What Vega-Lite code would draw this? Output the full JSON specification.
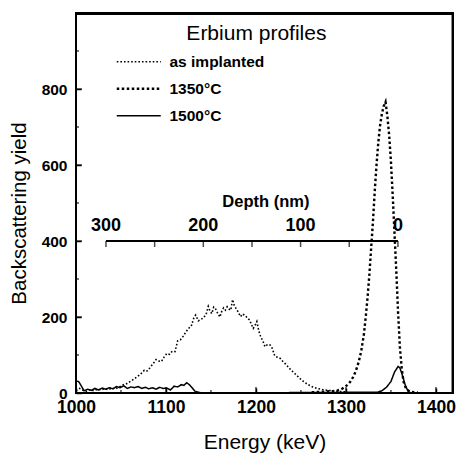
{
  "$schema": "https://vega.github.io/schema/vega-lite/v6.json",
  "width": 377,
  "height": 380,
  "autosize": {"type": "none"},
  "padding": {"left": 76, "top": 13, "right": 3, "bottom": 61},
  "background": "white",
  "view": {"stroke": "black", "strokeWidth": 2, "strokeOpacity": 1},
  "config": {
    "font": "Liberation Sans",
    "view": {"stroke": "black", "strokeWidth": 2, "strokeOpacity": 1},
    "axis": {
      "grid": false, "domain": false,
      "ticks": true, "tickColor": "black", "tickWidth": 1.5, "tickSize": 5, "tickOpacity": 1,
      "labelColor": "black", "titleColor": "black",
      "labelFont": "Liberation Sans", "titleFont": "Liberation Sans",
      "labelFontWeight": "bold", "titleFontWeight": "normal",
      "labelOverlap": false, "labelFlush": false, "zindex": 1
    },
    "legend": {
      "orient": "none", "legendX": 55, "legendY": 41,
      "symbolType": "M-4,0H4", "symbolSize": 121, "symbolStrokeColor": "black",
      "labelFont": "Liberation Sans", "labelFontSize": 15.5, "labelFontWeight": "bold",
      "labelColor": "black", "labelOffset": 23, "rowPadding": 10, "padding": 0
    }
  },
  "datasets": {
    "profiles": [
      {"profile": "as implanted", "energy": 1000, "yield": 6},
      {"profile": "as implanted", "energy": 1004, "yield": 12},
      {"profile": "as implanted", "energy": 1008, "yield": 7},
      {"profile": "as implanted", "energy": 1012, "yield": 4},
      {"profile": "as implanted", "energy": 1016, "yield": 9},
      {"profile": "as implanted", "energy": 1020, "yield": 6},
      {"profile": "as implanted", "energy": 1024, "yield": 10},
      {"profile": "as implanted", "energy": 1028, "yield": 8},
      {"profile": "as implanted", "energy": 1032, "yield": 11},
      {"profile": "as implanted", "energy": 1036, "yield": 9},
      {"profile": "as implanted", "energy": 1040, "yield": 13},
      {"profile": "as implanted", "energy": 1044, "yield": 11},
      {"profile": "as implanted", "energy": 1048, "yield": 16},
      {"profile": "as implanted", "energy": 1052, "yield": 21},
      {"profile": "as implanted", "energy": 1056, "yield": 24},
      {"profile": "as implanted", "energy": 1060, "yield": 30},
      {"profile": "as implanted", "energy": 1064, "yield": 36},
      {"profile": "as implanted", "energy": 1068, "yield": 43},
      {"profile": "as implanted", "energy": 1072, "yield": 50},
      {"profile": "as implanted", "energy": 1076, "yield": 60},
      {"profile": "as implanted", "energy": 1079, "yield": 58},
      {"profile": "as implanted", "energy": 1082, "yield": 66},
      {"profile": "as implanted", "energy": 1086, "yield": 78},
      {"profile": "as implanted", "energy": 1089, "yield": 88},
      {"profile": "as implanted", "energy": 1092, "yield": 84},
      {"profile": "as implanted", "energy": 1095, "yield": 83},
      {"profile": "as implanted", "energy": 1098, "yield": 95},
      {"profile": "as implanted", "energy": 1101, "yield": 104},
      {"profile": "as implanted", "energy": 1104, "yield": 102},
      {"profile": "as implanted", "energy": 1107, "yield": 110},
      {"profile": "as implanted", "energy": 1110, "yield": 109},
      {"profile": "as implanted", "energy": 1113, "yield": 137},
      {"profile": "as implanted", "energy": 1116, "yield": 140},
      {"profile": "as implanted", "energy": 1119, "yield": 149},
      {"profile": "as implanted", "energy": 1122, "yield": 160},
      {"profile": "as implanted", "energy": 1125, "yield": 170},
      {"profile": "as implanted", "energy": 1128, "yield": 175},
      {"profile": "as implanted", "energy": 1131, "yield": 198},
      {"profile": "as implanted", "energy": 1133, "yield": 205},
      {"profile": "as implanted", "energy": 1136, "yield": 190},
      {"profile": "as implanted", "energy": 1139, "yield": 194},
      {"profile": "as implanted", "energy": 1142, "yield": 198},
      {"profile": "as implanted", "energy": 1145, "yield": 210},
      {"profile": "as implanted", "energy": 1147, "yield": 228},
      {"profile": "as implanted", "energy": 1149, "yield": 215},
      {"profile": "as implanted", "energy": 1151, "yield": 209},
      {"profile": "as implanted", "energy": 1153, "yield": 226},
      {"profile": "as implanted", "energy": 1155, "yield": 222},
      {"profile": "as implanted", "energy": 1157, "yield": 212},
      {"profile": "as implanted", "energy": 1160, "yield": 200},
      {"profile": "as implanted", "energy": 1162, "yield": 215},
      {"profile": "as implanted", "energy": 1164, "yield": 224},
      {"profile": "as implanted", "energy": 1166, "yield": 218},
      {"profile": "as implanted", "energy": 1168, "yield": 227},
      {"profile": "as implanted", "energy": 1170, "yield": 221},
      {"profile": "as implanted", "energy": 1172, "yield": 218},
      {"profile": "as implanted", "energy": 1174, "yield": 246},
      {"profile": "as implanted", "energy": 1176, "yield": 230},
      {"profile": "as implanted", "energy": 1178, "yield": 222},
      {"profile": "as implanted", "energy": 1180, "yield": 214},
      {"profile": "as implanted", "energy": 1183, "yield": 201},
      {"profile": "as implanted", "energy": 1185, "yield": 208},
      {"profile": "as implanted", "energy": 1188, "yield": 204},
      {"profile": "as implanted", "energy": 1191, "yield": 196},
      {"profile": "as implanted", "energy": 1193, "yield": 192},
      {"profile": "as implanted", "energy": 1195, "yield": 180},
      {"profile": "as implanted", "energy": 1197, "yield": 170},
      {"profile": "as implanted", "energy": 1199, "yield": 178},
      {"profile": "as implanted", "energy": 1201, "yield": 188},
      {"profile": "as implanted", "energy": 1203, "yield": 165},
      {"profile": "as implanted", "energy": 1205, "yield": 150},
      {"profile": "as implanted", "energy": 1208, "yield": 135},
      {"profile": "as implanted", "energy": 1210, "yield": 122},
      {"profile": "as implanted", "energy": 1213, "yield": 128},
      {"profile": "as implanted", "energy": 1216, "yield": 126},
      {"profile": "as implanted", "energy": 1218, "yield": 118},
      {"profile": "as implanted", "energy": 1221, "yield": 97},
      {"profile": "as implanted", "energy": 1224, "yield": 94},
      {"profile": "as implanted", "energy": 1227, "yield": 91},
      {"profile": "as implanted", "energy": 1230, "yield": 83},
      {"profile": "as implanted", "energy": 1233, "yield": 76},
      {"profile": "as implanted", "energy": 1236, "yield": 68},
      {"profile": "as implanted", "energy": 1239, "yield": 60},
      {"profile": "as implanted", "energy": 1242, "yield": 54},
      {"profile": "as implanted", "energy": 1245, "yield": 47},
      {"profile": "as implanted", "energy": 1249, "yield": 38},
      {"profile": "as implanted", "energy": 1253, "yield": 30},
      {"profile": "as implanted", "energy": 1258, "yield": 22},
      {"profile": "as implanted", "energy": 1263, "yield": 16},
      {"profile": "as implanted", "energy": 1268, "yield": 12},
      {"profile": "as implanted", "energy": 1274, "yield": 9},
      {"profile": "as implanted", "energy": 1280, "yield": 7},
      {"profile": "as implanted", "energy": 1286, "yield": 6},
      {"profile": "as implanted", "energy": 1292, "yield": 4},
      {"profile": "as implanted", "energy": 1300, "yield": 3},
      {"profile": "1350°C", "energy": 1262, "yield": 2},
      {"profile": "1350°C", "energy": 1270, "yield": 3},
      {"profile": "1350°C", "energy": 1278, "yield": 4},
      {"profile": "1350°C", "energy": 1285, "yield": 5},
      {"profile": "1350°C", "energy": 1290, "yield": 6},
      {"profile": "1350°C", "energy": 1295, "yield": 10},
      {"profile": "1350°C", "energy": 1299, "yield": 16},
      {"profile": "1350°C", "energy": 1302, "yield": 22},
      {"profile": "1350°C", "energy": 1305, "yield": 30},
      {"profile": "1350°C", "energy": 1308, "yield": 42},
      {"profile": "1350°C", "energy": 1311, "yield": 58},
      {"profile": "1350°C", "energy": 1314, "yield": 80},
      {"profile": "1350°C", "energy": 1317, "yield": 110},
      {"profile": "1350°C", "energy": 1320, "yield": 155},
      {"profile": "1350°C", "energy": 1322, "yield": 200},
      {"profile": "1350°C", "energy": 1324, "yield": 250},
      {"profile": "1350°C", "energy": 1326, "yield": 310},
      {"profile": "1350°C", "energy": 1328, "yield": 380},
      {"profile": "1350°C", "energy": 1330, "yield": 450},
      {"profile": "1350°C", "energy": 1332, "yield": 530},
      {"profile": "1350°C", "energy": 1334, "yield": 600},
      {"profile": "1350°C", "energy": 1336, "yield": 660},
      {"profile": "1350°C", "energy": 1338, "yield": 705},
      {"profile": "1350°C", "energy": 1340, "yield": 735},
      {"profile": "1350°C", "energy": 1342, "yield": 755},
      {"profile": "1350°C", "energy": 1344, "yield": 766},
      {"profile": "1350°C", "energy": 1346, "yield": 730},
      {"profile": "1350°C", "energy": 1348, "yield": 680},
      {"profile": "1350°C", "energy": 1350, "yield": 610},
      {"profile": "1350°C", "energy": 1352, "yield": 520},
      {"profile": "1350°C", "energy": 1354, "yield": 420},
      {"profile": "1350°C", "energy": 1356, "yield": 320},
      {"profile": "1350°C", "energy": 1358, "yield": 210},
      {"profile": "1350°C", "energy": 1360, "yield": 120},
      {"profile": "1350°C", "energy": 1362, "yield": 65},
      {"profile": "1350°C", "energy": 1364, "yield": 30},
      {"profile": "1350°C", "energy": 1367, "yield": 10},
      {"profile": "1350°C", "energy": 1372, "yield": 3},
      {"profile": "1350°C", "energy": 1380, "yield": 1},
      {"profile": "1500°C", "energy": 1000, "yield": 32},
      {"profile": "1500°C", "energy": 1003, "yield": 30},
      {"profile": "1500°C", "energy": 1006, "yield": 18},
      {"profile": "1500°C", "energy": 1009, "yield": 6},
      {"profile": "1500°C", "energy": 1013, "yield": 10},
      {"profile": "1500°C", "energy": 1017, "yield": 7},
      {"profile": "1500°C", "energy": 1021, "yield": 12},
      {"profile": "1500°C", "energy": 1025, "yield": 8},
      {"profile": "1500°C", "energy": 1029, "yield": 13},
      {"profile": "1500°C", "energy": 1033, "yield": 10},
      {"profile": "1500°C", "energy": 1037, "yield": 14},
      {"profile": "1500°C", "energy": 1041, "yield": 11},
      {"profile": "1500°C", "energy": 1045, "yield": 17},
      {"profile": "1500°C", "energy": 1049, "yield": 14},
      {"profile": "1500°C", "energy": 1053, "yield": 19},
      {"profile": "1500°C", "energy": 1057, "yield": 12},
      {"profile": "1500°C", "energy": 1061, "yield": 16},
      {"profile": "1500°C", "energy": 1065, "yield": 14},
      {"profile": "1500°C", "energy": 1069, "yield": 17},
      {"profile": "1500°C", "energy": 1073, "yield": 12},
      {"profile": "1500°C", "energy": 1077, "yield": 15},
      {"profile": "1500°C", "energy": 1081, "yield": 11},
      {"profile": "1500°C", "energy": 1085, "yield": 14},
      {"profile": "1500°C", "energy": 1089, "yield": 10},
      {"profile": "1500°C", "energy": 1093, "yield": 15},
      {"profile": "1500°C", "energy": 1097, "yield": 12},
      {"profile": "1500°C", "energy": 1101, "yield": 13},
      {"profile": "1500°C", "energy": 1105, "yield": 8},
      {"profile": "1500°C", "energy": 1109, "yield": 18},
      {"profile": "1500°C", "energy": 1113, "yield": 16},
      {"profile": "1500°C", "energy": 1117, "yield": 22},
      {"profile": "1500°C", "energy": 1120, "yield": 20},
      {"profile": "1500°C", "energy": 1123, "yield": 27},
      {"profile": "1500°C", "energy": 1126, "yield": 22},
      {"profile": "1500°C", "energy": 1129, "yield": 14},
      {"profile": "1500°C", "energy": 1132, "yield": 5},
      {"profile": "1500°C", "energy": 1136, "yield": 2},
      {"profile": "1500°C", "energy": 1140, "yield": 0},
      {"profile": "1500°C", "energy": 1335, "yield": 2},
      {"profile": "1500°C", "energy": 1340, "yield": 6},
      {"profile": "1500°C", "energy": 1345, "yield": 15},
      {"profile": "1500°C", "energy": 1350, "yield": 30},
      {"profile": "1500°C", "energy": 1354, "yield": 55},
      {"profile": "1500°C", "energy": 1358, "yield": 70},
      {"profile": "1500°C", "energy": 1360, "yield": 66},
      {"profile": "1500°C", "energy": 1363, "yield": 45},
      {"profile": "1500°C", "energy": 1366, "yield": 20},
      {"profile": "1500°C", "energy": 1369, "yield": 5},
      {"profile": "1500°C", "energy": 1372, "yield": 0},
      {"profile": "1500°C", "energy": 1419, "yield": 0}
    ],
    "depth": [
      {"depth": 300, "energy": 1033.3},
      {"depth": 250, "energy": 1087.4},
      {"depth": 200, "energy": 1141.5},
      {"depth": 150, "energy": 1195.6},
      {"depth": 100, "energy": 1249.6},
      {"depth": 50, "energy": 1303.7},
      {"depth": 0, "energy": 1357.8}
    ],
    "xticks": [
      {"energy": 1000, "kind": "major"}, {"energy": 1050, "kind": "minor"},
      {"energy": 1100, "kind": "major"}, {"energy": 1150, "kind": "minor"},
      {"energy": 1200, "kind": "major"}, {"energy": 1250, "kind": "minor"},
      {"energy": 1300, "kind": "major"}, {"energy": 1350, "kind": "minor"},
      {"energy": 1400, "kind": "major"}
    ],
    "yticks": [
      {"yield": 100, "kind": "minor"}, {"yield": 200, "kind": "major"},
      {"yield": 300, "kind": "minor"}, {"yield": 400, "kind": "major"},
      {"yield": 500, "kind": "minor"}, {"yield": 600, "kind": "major"},
      {"yield": 700, "kind": "minor"}, {"yield": 800, "kind": "major"},
      {"yield": 900, "kind": "minor"}
    ]
  },
  "layer": [
    {
      "data": {"name": "profiles"},
      "mark": {"type": "line", "clip": true},
      "encoding": {
        "x": {
          "field": "energy", "type": "quantitative",
          "scale": {"domain": [1000, 1419], "nice": false, "zero": false},
          "axis": {
            "title": "Energy (keV)", "titleFontSize": 21, "titlePadding": 16,
            "values": [1000, 1100, 1200, 1300, 1400],
            "format": "d",
            "offset": -5, "tickSize": 5,
            "labelFontSize": 17.5, "labelPadding": 5
          }
        },
        "y": {
          "field": "yield", "type": "quantitative",
          "scale": {"domain": [0, 1000], "nice": false},
          "axis": {
            "title": "Backscattering yield", "titleFontSize": 20.5, "titlePadding": 12, "titleY": 200,
            "values": [0, 200, 400, 600, 800],
            "format": "d",
            "offset": -5, "tickSize": 5,
            "labelFontSize": 15.5, "labelPadding": 9
          }
        },
        "strokeDash": {
          "field": "profile", "type": "nominal",
          "scale": {"domain": ["as implanted", "1350°C", "1500°C"], "range": [[1.6, 2], [2.5, 2.5], [1, 0]]},
          "legend": {"title": null}
        },
        "strokeWidth": {
          "field": "profile", "type": "nominal",
          "scale": {"type": "ordinal", "domain": ["as implanted", "1350°C", "1500°C"], "range": [1.6, 2.4, 1.5]},
          "legend": {"title": null}
        },
        "color": {"value": "black"}
      }
    },
    {
      "data": {"values": [{}]},
      "mark": {"type": "rect", "filled": false, "color": "black", "strokeWidth": 2},
      "encoding": {
        "x": {"datum": 1000, "type": "quantitative"},
        "x2": {"datum": 1418.5},
        "y": {"datum": 0, "type": "quantitative"},
        "y2": {"datum": 998}
      }
    },
    {
      "data": {"values": [{}]},
      "mark": {"type": "rule", "color": "black", "strokeWidth": 2.5},
      "encoding": {
        "x": {"datum": 1000, "type": "quantitative"},
        "x2": {"datum": 1418.5},
        "y": {"datum": 998, "type": "quantitative"}
      }
    },
    {
      "data": {"name": "xticks"},
      "transform": [{"filter": "datum.kind === 'major'"}],
      "mark": {"type": "tick", "orient": "vertical", "color": "black", "size": 6, "thickness": 1.5, "yOffset": -3},
      "encoding": {
        "x": {"field": "energy", "type": "quantitative"},
        "y": {"datum": 0, "type": "quantitative"}
      }
    },
    {
      "data": {"name": "xticks"},
      "transform": [{"filter": "datum.kind === 'minor'"}],
      "mark": {"type": "tick", "orient": "vertical", "color": "black", "size": 3, "thickness": 1.5, "yOffset": -1.5},
      "encoding": {
        "x": {"field": "energy", "type": "quantitative"},
        "y": {"datum": 0, "type": "quantitative"}
      }
    },
    {
      "data": {"name": "yticks"},
      "transform": [{"filter": "datum.kind === 'major'"}],
      "mark": {"type": "tick", "orient": "horizontal", "color": "black", "size": 6, "thickness": 1.5, "xOffset": 3},
      "encoding": {
        "x": {"datum": 1000, "type": "quantitative"},
        "y": {"field": "yield", "type": "quantitative"}
      }
    },
    {
      "data": {"name": "yticks"},
      "transform": [{"filter": "datum.kind === 'minor'"}],
      "mark": {"type": "tick", "orient": "horizontal", "color": "black", "size": 3, "thickness": 1.5, "xOffset": 1.5},
      "encoding": {
        "x": {"datum": 1000, "type": "quantitative"},
        "y": {"field": "yield", "type": "quantitative"}
      }
    },
    {
      "data": {"values": [{}]},
      "mark": {"type": "rule", "color": "black", "strokeWidth": 2},
      "encoding": {
        "x": {"datum": 1033.3, "type": "quantitative"},
        "x2": {"datum": 1357.8},
        "y": {"datum": 400, "type": "quantitative"}
      }
    },
    {
      "data": {"name": "depth"},
      "mark": {"type": "tick", "orient": "vertical", "color": "black", "size": 6, "thickness": 1.5, "yOffset": 3},
      "encoding": {
        "x": {"field": "energy", "type": "quantitative"},
        "y": {"datum": 400, "type": "quantitative"}
      }
    },
    {
      "data": {"name": "depth"},
      "transform": [{"filter": "datum.depth % 100 === 0"}],
      "mark": {"type": "text", "color": "black", "font": "Liberation Sans", "fontSize": 18, "fontWeight": "bold", "baseline": "alphabetic", "align": "center", "dy": -10},
      "encoding": {
        "x": {"field": "energy", "type": "quantitative"},
        "y": {"datum": 400, "type": "quantitative"},
        "text": {"field": "depth", "type": "quantitative"}
      }
    },
    {
      "data": {"values": [{}]},
      "mark": {"type": "text", "color": "black", "font": "Liberation Sans", "fontSize": 16.5, "fontWeight": "bold", "baseline": "alphabetic", "align": "center", "dy": -34},
      "encoding": {
        "x": {"datum": 1211, "type": "quantitative"},
        "y": {"datum": 400, "type": "quantitative"},
        "text": {"value": "Depth (nm)"}
      }
    },
    {
      "data": {"values": [{}]},
      "mark": {"type": "text", "color": "black", "font": "Liberation Sans", "fontSize": 21, "fontWeight": "normal", "baseline": "alphabetic", "align": "center"},
      "encoding": {
        "x": {"datum": 1200.5, "type": "quantitative"},
        "y": {"datum": 929, "type": "quantitative"},
        "text": {"value": "Erbium profiles"}
      }
    }
  ]
}
